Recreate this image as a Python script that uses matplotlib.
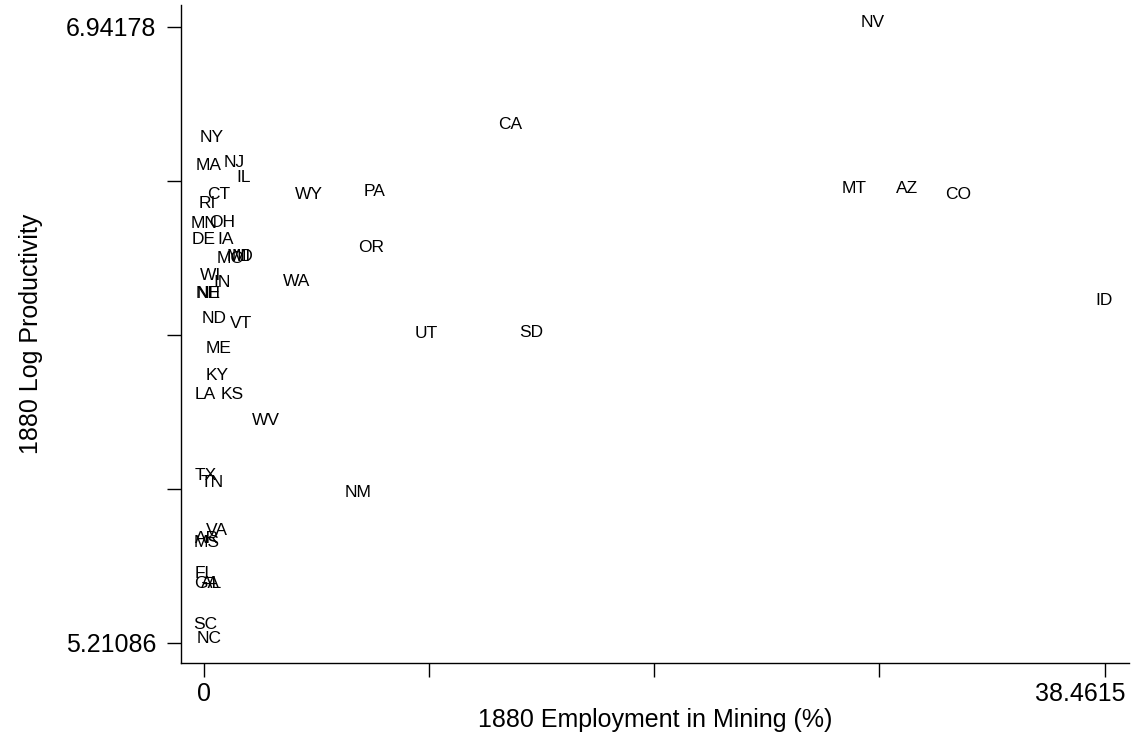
import matplotlib.pyplot as plt
import matplotlib.transforms as mtransforms
import numpy as np

plt.rcParams["font.family"] = ["Liberation Sans", "DejaVu Sans"]

# 1880 mining employment share (%) and log productivity by state
states = [
    "NV", "CA", "NY", "MA", "NJ", "IL", "CT", "RI", "MN", "OH",
    "DE", "IA", "MO", "MD", "MI", "WI", "IN", "NE", "NH", "ND",
    "VT", "ME", "KY", "LA", "KS", "WV", "TX", "TN", "NM", "VA",
    "AR", "MS", "FL", "GA", "AL", "SC", "NC", "WY", "PA", "OR",
    "WA", "UT", "SD", "MT", "AZ", "CO", "ID",
]
mining_share = [
    28.58, 13.09, 0.32, 0.21, 1.30, 1.69, 0.64, 0.15, 0.0, 0.77,
    0.0, 0.90, 1.13, 1.54, 1.58, 0.26, 0.75, 0.19, 0.19, 0.43,
    1.58, 0.60, 0.58, 0.04, 1.22, 2.65, 0.06, 0.34, 6.59, 0.53,
    0.13, 0.09, 0.04, 0.13, 0.30, 0.04, 0.21, 4.47, 7.27, 7.12,
    3.96, 9.48, 13.99, 27.77, 30.03, 32.19, 38.4615,
]
log_productivity = [
    6.94178, 6.6552, 6.6187, 6.5400, 6.5484, 6.5062, 6.4585, 6.4332, 6.3770, 6.3798,
    6.3320, 6.3320, 6.2787, 6.2840, 6.2840, 6.2310, 6.2110, 6.1803, 6.1803, 6.1101,
    6.0960, 6.0258, 5.9500, 5.8960, 5.8960, 5.8235, 5.6690, 5.6490, 5.6210, 5.5144,
    5.4920, 5.4800, 5.3936, 5.3655, 5.3655, 5.2501, 5.21086, 6.4585, 6.4670, 6.3096,
    6.2140, 6.0680, 6.0710, 6.4753, 6.4753, 6.4585, 6.1607,
]

x_min, x_max = 0.0, 38.4615
y_min, y_max = 5.21086, 6.94178


def main():
    fig = plt.figure(figsize=(11.33, 7.35), dpi=100)
    ax = fig.add_axes([0.1598, 0.098, 0.8363, 0.8952])

    # labels only, no markers; baseline sits on the data point
    for name, x, y in zip(states, mining_share, log_productivity):
        ax.text(x, y, name, ha="center", va="baseline", fontsize=12.5,
                color="black", clip_on=False)

    ax.set_xlim(-0.984, 39.49)
    ax.set_ylim(5.1547, 7.0036)

    xt = np.linspace(x_min, x_max, 5)
    ax.set_xticks(xt)
    ax.set_xticklabels(["0", "", "", "", "38.4615"])
    yt = np.linspace(y_min, y_max, 5)
    ax.set_yticks(yt)
    ax.set_yticklabels(["5.21086", "", "", "", "6.94178"])

    ax.tick_params(axis="both", direction="out", length=10, width=1,
                   labelsize=18, colors="black")
    ax.tick_params(axis="x", pad=4)
    ax.tick_params(axis="y", pad=8)

    # keep the last x tick label inside the figure
    last = ax.get_xticklabels()[-1]
    last.set_transform(last.get_transform() +
                       mtransforms.ScaledTranslation(-24 / 100, 0, fig.dpi_scale_trans))

    for side in ("top", "right"):
        ax.spines[side].set_visible(False)
    for side in ("left", "bottom"):
        ax.spines[side].set_linewidth(1)

    ax.set_xlabel("1880 Employment in Mining (%)", fontsize=18, labelpad=1)
    ax.set_ylabel("1880 Log Productivity", fontsize=18, labelpad=16)

    fig.savefig("out.png", dpi=100)


if __name__ == "__main__":
    main()
